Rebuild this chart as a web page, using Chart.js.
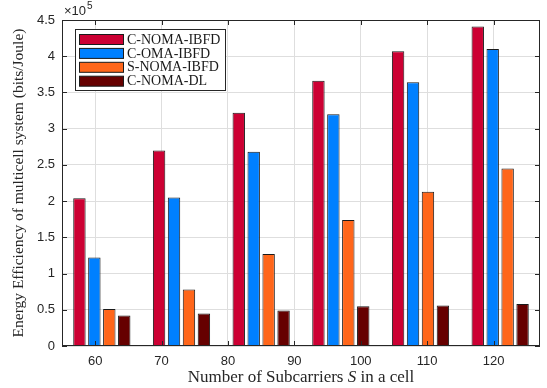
<!DOCTYPE html>
<html>
<head>
<meta charset="utf-8">
<script src="https://cdn.jsdelivr.net/npm/chart.js@4.4.1/dist/chart.umd.min.js"></script>
<style>
  html, body { margin: 0; padding: 0; background: #fff; }
  #wrap { width: 547px; height: 388px; }
</style>
</head>
<body>
<div id="wrap"><canvas id="ee-chart" width="547" height="388"></canvas></div>
<script>
// group centres on the subcarrier axis, and the ticks shown on it
const groupPos = [61, 73, 85, 97, 109, 121];
const xTicks = [60, 70, 80, 90, 100, 110, 120];
const yTicks = [0, 50000, 100000, 150000, 200000, 250000, 300000, 350000, 400000, 450000];

// energy efficiency, bits/Joule
const cNomaIbfd = [204000, 270000, 322000, 366000, 407000, 441000];
const cOmaIbfd  = [122000, 205000, 268000, 320000, 364000, 410000];
const sNomaIbfd = [51000, 78000, 127000, 174000, 213000, 245000];
const cNomaDl   = [42000, 45000, 49000, 55000, 56000, 58000];

const seriesNames = ["C-NOMA-IBFD", "C-OMA-IBFD", "S-NOMA-IBFD", "C-NOMA-DL"];
const seriesColors = ["#cc0033", "#0080ff", "#ff661a", "#660000"];

const SERIF = "'Liberation Serif', 'Times New Roman', serif";
const SANS = "'Liberation Sans', Arial, sans-serif";

function toPoints(values) {
    return values.map((v, i) => ({ x: groupPos[i], y: v }));
}

function makeDatasets() {
    let all = [cNomaIbfd, cOmaIbfd, sNomaIbfd, cNomaDl];
    // bar ruler uses the tick spacing (10 units), groups are 12 apart
    return all.map((vals, i) => ({
        label: seriesNames[i],
        data: toPoints(vals),
        backgroundColor: seriesColors[i],
        borderColor: "#1a1a1a",
        borderWidth: 1,
        categoryPercentage: 0.9,
        barPercentage: 0.83
    }));
}

// box, inward ticks, legend, exponent and x title (MATLAB style)
const axesFrame = {
    id: "axesFrame",
    afterDatasetsDraw(chart) {
        const ctx = chart.ctx;
        const a = chart.chartArea;
        const x = chart.scales.x;
        const y = chart.scales.y;
        ctx.save();
        ctx.strokeStyle = "#262626";
        ctx.lineWidth = 1;
        ctx.beginPath();
        xTicks.forEach(v => {
            let px = Math.round(x.getPixelForValue(v)) + 0.5;
            ctx.moveTo(px, a.bottom); ctx.lineTo(px, a.bottom - 5);
            ctx.moveTo(px, a.top); ctx.lineTo(px, a.top + 5);
        });
        yTicks.forEach(v => {
            let py = Math.round(y.getPixelForValue(v)) + 0.5;
            ctx.moveTo(a.left, py); ctx.lineTo(a.left + 5, py);
            ctx.moveTo(a.right, py); ctx.lineTo(a.right - 5, py);
        });
        ctx.stroke();
        ctx.strokeRect(a.left + 0.5, a.top + 0.5, a.width - 1, a.height - 1);

        // legend
        let lx = 75.5, ly = 29.5, lw = 150, lh = 61;
        ctx.fillStyle = "#fff";
        ctx.fillRect(lx, ly, lw, lh);
        ctx.strokeRect(lx, ly, lw, lh);
        ctx.font = "14px " + SERIF;
        ctx.textBaseline = "middle";
        ctx.textAlign = "left";
        chart.data.datasets.forEach((ds, i) => {
            let rowTop = 34.5 + i * 13.9;
            ctx.fillStyle = ds.backgroundColor;
            ctx.fillRect(79.5, rowTop, 44, 10);
            ctx.strokeStyle = "#1a1a1a";
            ctx.strokeRect(79.5, rowTop, 44, 10);
            ctx.fillStyle = "#1a1a1a";
            ctx.fillText(ds.label, 127, rowTop + 5.5);
        });

        // x10^5
        ctx.fillStyle = "#262626";
        ctx.textBaseline = "alphabetic";
        ctx.font = "13px " + SANS;
        ctx.fillText("\u00d710", 64, 15);
        let w = ctx.measureText("\u00d710").width;
        ctx.font = "10px " + SANS;
        ctx.fillText("5", 64 + w + 1, 9);

        // x title with italic S
        let parts = [["Number of Subcarriers ", ""], ["S", "italic "], [" in a cell", ""]];
        let total = 0;
        parts.forEach(p => {
            ctx.font = p[1] + "17px " + SERIF;
            p.push(ctx.measureText(p[0]).width);
            total += p[2];
        });
        let cx = (a.left + a.right) / 2 - total / 2;
        parts.forEach(p => {
            ctx.font = p[1] + "17px " + SERIF;
            ctx.fillText(p[0], cx, 382);
            cx += p[2];
        });
        ctx.restore();
    }
};

const ctx = document.getElementById("ee-chart");
const eeChart = new Chart(ctx, {
    type: "bar",
    data: { datasets: makeDatasets() },
    options: {
        responsive: false,
        animation: false,
        layout: { padding: { top: 20, right: 7, left: 0, bottom: 0 } },
        plugins: {
            legend: { display: false },
            tooltip: { enabled: false }
        },
        scales: {
            x: {
                type: "linear",
                min: 55,
                max: 127,
                offset: false,
                grid: { offset: false, color: "#dedede", drawTicks: false },
                border: { display: false },
                afterBuildTicks: scale => { scale.ticks = xTicks.map(v => ({ value: v })); },
                afterFit: scale => { scale.height = 42; },
                ticks: {
                    padding: 8,
                    color: "#262626",
                    font: { family: SANS, size: 13 },
                    maxRotation: 0
                }
            },
            y: {
                min: 0,
                max: 450000,
                grid: { color: "#dedede", drawTicks: false },
                border: { display: false },
                afterBuildTicks: scale => { scale.ticks = yTicks.map(v => ({ value: v })); },
                afterFit: scale => { scale.width = 62; },
                ticks: {
                    padding: 7,
                    color: "#262626",
                    font: { family: SANS, size: 13 },
                    callback: v => String(Math.round(v / 10000) / 10)
                },
                title: {
                    display: true,
                    text: "Energy Efficiency of multicell system (bits/Joule)",
                    color: "#262626",
                    font: { family: SERIF, size: 15.5 },
                    padding: { top: 10, bottom: 0 }
                }
            }
        }
    },
    plugins: [axesFrame]
});
</script>
</body>
</html>
